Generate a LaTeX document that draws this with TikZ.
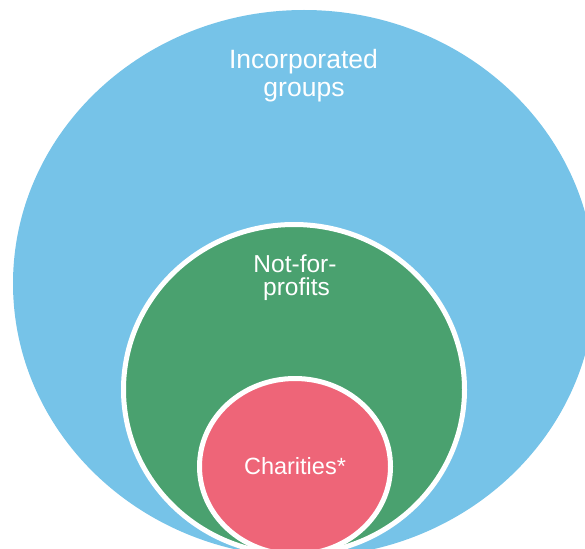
\documentclass[tikz,border=0pt]{standalone}
\usepackage{fontspec}
\setmainfont{Liberation Sans}
\usetikzlibrary{shapes.geometric}
\definecolor{outerblue}{RGB}{118,195,232}
\definecolor{midgreen}{RGB}{74,161,111}
\definecolor{innerpink}{RGB}{238,101,120}
\tikzset{
  ring/.style={shape=ellipse, inner sep=0pt, outer sep=0pt},
  label/.style={text=white, anchor=base, inner sep=0pt},
}
\begin{document}
\begin{tikzpicture}[x=1pt,y=-1pt]
\useasboundingbox (0,0) rectangle (585,548);
\begin{scope}
\clip (0,0) rectangle (585,548);
\node[ring, fill=outerblue, minimum width=582pt, minimum height=547pt] (incorp) at (304,283.5) {};
\node[ring, fill=midgreen, draw=white, line width=5pt, minimum width=341pt, minimum height=330pt] (nfp) at (294,389.5) {};
\node[ring, fill=innerpink, draw=white, line width=5pt, minimum width=191pt, minimum height=176pt] (char) at (295,466.5) {};
\end{scope}
\node[label, font=\fontsize{26.5}{27}\selectfont] (inc1) at (303.5,69) {Incorporated};
\node[label, font=\fontsize{26.5}{27}\selectfont] (inc2) at (304,96.5) {groups};
\node[label, font=\fontsize{24.5}{25}\selectfont] (nfp1) at (295,272) {Not-for-};
\node[label, font=\fontsize{24.5}{25}\selectfont] (nfp2) at (296.5,295) {profits};
\node[label, font=\fontsize{23.5}{24}\selectfont] (char1) at (295,474) {Charities*};
\end{tikzpicture}
\end{document}
